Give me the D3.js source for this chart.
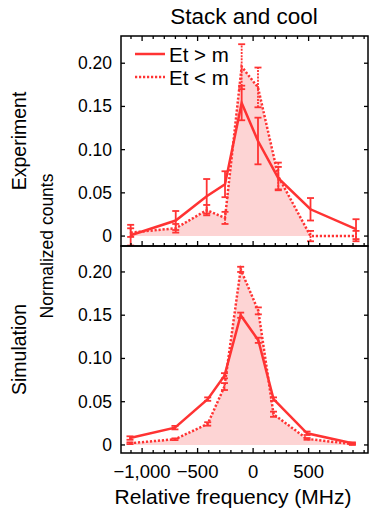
<!DOCTYPE html>
<html>
<head>
<meta charset="utf-8">
<style>
  body { margin: 0; background: #fff; }
  svg { display: block; font-family: "Liberation Sans", Arial, sans-serif; }
  .frame { fill: none; stroke: #000; stroke-width: 1.5; }
  .tick-mark { stroke: #000; stroke-width: 1.3; }
  .tick-label { font-size: 17.5px; fill: #000; }
  .line-hi { fill: none; stroke: #ff3333; stroke-width: 2.5; }
  .line-lo { fill: none; stroke: #ff3333; stroke-width: 2.5; stroke-dasharray: 2.2 1.8; }
  .err { stroke: #ff3333; stroke-width: 1.8; }
  .err-lo { stroke: #ff3333; stroke-width: 1.8; stroke-dasharray: 2 1.2; }
  .fill-lo { fill: #fdd4d4; }
</style>
</head>
<body>
<svg id="chart" width="371" height="510"></svg>
<script src="https://cdnjs.cloudflare.com/ajax/libs/d3/7.8.5/d3.min.js"></script>
<script>
// Stack and cool: normalized counts vs relative frequency.
// Two series per panel: Et > m (solid) and Et < m (dotted, filled).

// Experiment panel
var expFreq  = [-1103, -697, -418, -253, -103, 44, 227, 517, 927];
var expHi    = [0.001, 0.018, 0.046, 0.060, 0.154, 0.110, 0.067, 0.031, 0.008];
var expHiErr = [0.012, 0.011, 0.020, 0.015, 0.020, 0.027, 0.013, 0.013, 0.0115];
var expLo    = [0.004, 0.009, 0.030, 0.021, 0.196, 0.172, 0.069, 0.000, 0.000];
var expLoErr = [0.005, 0.005, 0.006, 0.007, 0.026, 0.023, 0.016, 0.006, 0.006];

// Simulation panel
var simFreq  = [-1109, -704, -409, -258, -112, 47, 184, 486, 894];
var simHi    = [0.008, 0.020, 0.053, 0.080, 0.150, 0.121, 0.053, 0.0135, 0.002];
var simHiErr = [0.002, 0.002, 0.002, 0.003, 0.003, 0.003, 0.002, 0.002, 0.001];
var simLo    = [0.002, 0.0066, 0.0243, 0.0675, 0.203, 0.155, 0.0355, 0.007, 0.001];
var simLoErr = [0.001, 0.001, 0.002, 0.004, 0.003, 0.004, 0.003, 0.001, 0.001];

var yTicks = [0, 0.05, 0.10, 0.15, 0.20];
var yTickLabels = ['0', '0.05', '0.10', '0.15', '0.20'];
var xTicks = [-1000, -500, 0, 500];
var xTickLabels = ['\u22121,000', '\u2212500', '0', '500'];
var xMinorTicks = d3.range(-1100, 1001, 100);

var legendLabels = ['Et > m', 'Et < m'];

var svg = d3.select('#chart');
var left = 121, right = 368;

var x = d3.scaleLinear().domain([-1190, 1035]).range([left, right]);

var panels = [
  { name: 'Experiment', top: 36, bottom: 246, domain: [-0.0115, 0.2315],
    freq: expFreq, hi: expHi, hiErr: expHiErr, lo: expLo, loErr: expLoErr,
    ticksTop: true },
  { name: 'Simulation', top: 246, bottom: 453, domain: [-0.0093, 0.230],
    freq: simFreq, hi: simHi, hiErr: simHiErr, lo: simLo, loErr: simLoErr,
    ticksTop: false }
];

panels.forEach(function(p, i) {
  var y = d3.scaleLinear().domain(p.domain).range([p.bottom, p.top]);
  var g = svg.append('g');

  var clipId = 'clip' + i;
  svg.append('clipPath').attr('id', clipId)
    .append('rect')
    .attr('x', left).attr('y', p.top)
    .attr('width', right - left).attr('height', p.bottom - p.top);

  var plot = g.append('g').attr('clip-path', 'url(#' + clipId + ')');

  var pts = p.freq.map(function(f, j) {
    return { f: f, hi: p.hi[j], hiErr: p.hiErr[j], lo: p.lo[j], loErr: p.loErr[j] };
  });

  // filled area under the Et < m curve
  plot.append('path')
    .datum(pts)
    .attr('class', 'fill-lo')
    .attr('d', d3.area()
      .x(function(d) { return x(d.f); })
      .y0(y(0))
      .y1(function(d) { return y(d.lo); }));

  plot.append('path')
    .datum(pts)
    .attr('class', 'line-lo')
    .attr('d', d3.line()
      .x(function(d) { return x(d.f); })
      .y(function(d) { return y(d.lo); }));

  plot.append('path')
    .datum(pts)
    .attr('class', 'line-hi')
    .attr('d', d3.line()
      .x(function(d) { return x(d.f); })
      .y(function(d) { return y(d.hi); }));

  // error bars with caps
  function errorBars(key, errKey, cls) {
    var eb = plot.append('g').selectAll('g').data(pts).enter().append('g');
    eb.append('line').attr('class', cls)
      .attr('x1', function(d) { return x(d.f); })
      .attr('x2', function(d) { return x(d.f); })
      .attr('y1', function(d) { return y(d[key] - d[errKey]); })
      .attr('y2', function(d) { return y(d[key] + d[errKey]); });
    [-1, 1].forEach(function(s) {
      eb.append('line').attr('class', 'err')
        .attr('x1', function(d) { return x(d.f) - 3.5; })
        .attr('x2', function(d) { return x(d.f) + 3.5; })
        .attr('y1', function(d) { return y(d[key] + s * d[errKey]); })
        .attr('y2', function(d) { return y(d[key] + s * d[errKey]); });
    });
  }
  errorBars('lo', 'loErr', 'err-lo');
  errorBars('hi', 'hiErr', 'err');

  // frame
  g.append('rect').attr('class', 'frame')
    .attr('x', left).attr('y', p.top)
    .attr('width', right - left).attr('height', p.bottom - p.top);

  // y ticks, inward on both sides
  yTicks.forEach(function(t, j) {
    g.append('line').attr('class', 'tick-mark')
      .attr('x1', left).attr('x2', left + 4)
      .attr('y1', y(t)).attr('y2', y(t));
    g.append('line').attr('class', 'tick-mark')
      .attr('x1', right).attr('x2', right - 4)
      .attr('y1', y(t)).attr('y2', y(t));
    g.append('text').attr('class', 'tick-label')
      .attr('x', 112).attr('y', y(t) + 6)
      .attr('text-anchor', 'end')
      .text(yTickLabels[j]);
  });

  // x ticks, inward along bottom (and top of first panel)
  xMinorTicks.forEach(function(t) {
    var len = xTicks.indexOf(t) >= 0 ? 5 : 3;
    g.append('line').attr('class', 'tick-mark')
      .attr('x1', x(t)).attr('x2', x(t))
      .attr('y1', p.bottom).attr('y2', p.bottom - len);
    if (p.ticksTop) {
      g.append('line').attr('class', 'tick-mark')
        .attr('x1', x(t)).attr('x2', x(t))
        .attr('y1', p.top).attr('y2', p.top + len);
    }
  });

  // panel name on the far left
  svg.append('text')
    .attr('transform', 'translate(26,' + ((p.top + p.bottom) / 2) + ') rotate(-90)')
    .attr('text-anchor', 'middle')
    .style('font-size', '19.5px')
    .text(p.name);
});

// x tick labels below the bottom panel
xTicks.forEach(function(t, j) {
  svg.append('text').attr('class', 'tick-label')
    .attr('x', x(t)).attr('y', 478)
    .attr('text-anchor', 'middle')
    .style('font-size', '18.5px')
    .text(xTickLabels[j]);
});

svg.append('text')
  .attr('x', 233).attr('y', 504)
  .attr('text-anchor', 'middle')
  .style('font-size', '21px')
  .text('Relative frequency (MHz)');

svg.append('text')
  .attr('transform', 'translate(53,246) rotate(-90)')
  .attr('text-anchor', 'middle')
  .style('font-size', '17.5px')
  .text('Normalized counts');

svg.append('text')
  .attr('x', 244).attr('y', 24)
  .attr('text-anchor', 'middle')
  .style('font-size', '22.5px')
  .text('Stack and cool');

// legend
var legend = svg.append('g');
legendLabels.forEach(function(label, j) {
  var ly = 54 + j * 23;
  legend.append('line')
    .attr('class', j === 0 ? 'line-hi' : 'line-lo')
    .attr('x1', 135).attr('x2', 165)
    .attr('y1', ly).attr('y2', ly);
  legend.append('text')
    .attr('x', 169).attr('y', ly + 8)
    .style('font-size', '20.5px')
    .text(label);
});
</script>
</body>
</html>
